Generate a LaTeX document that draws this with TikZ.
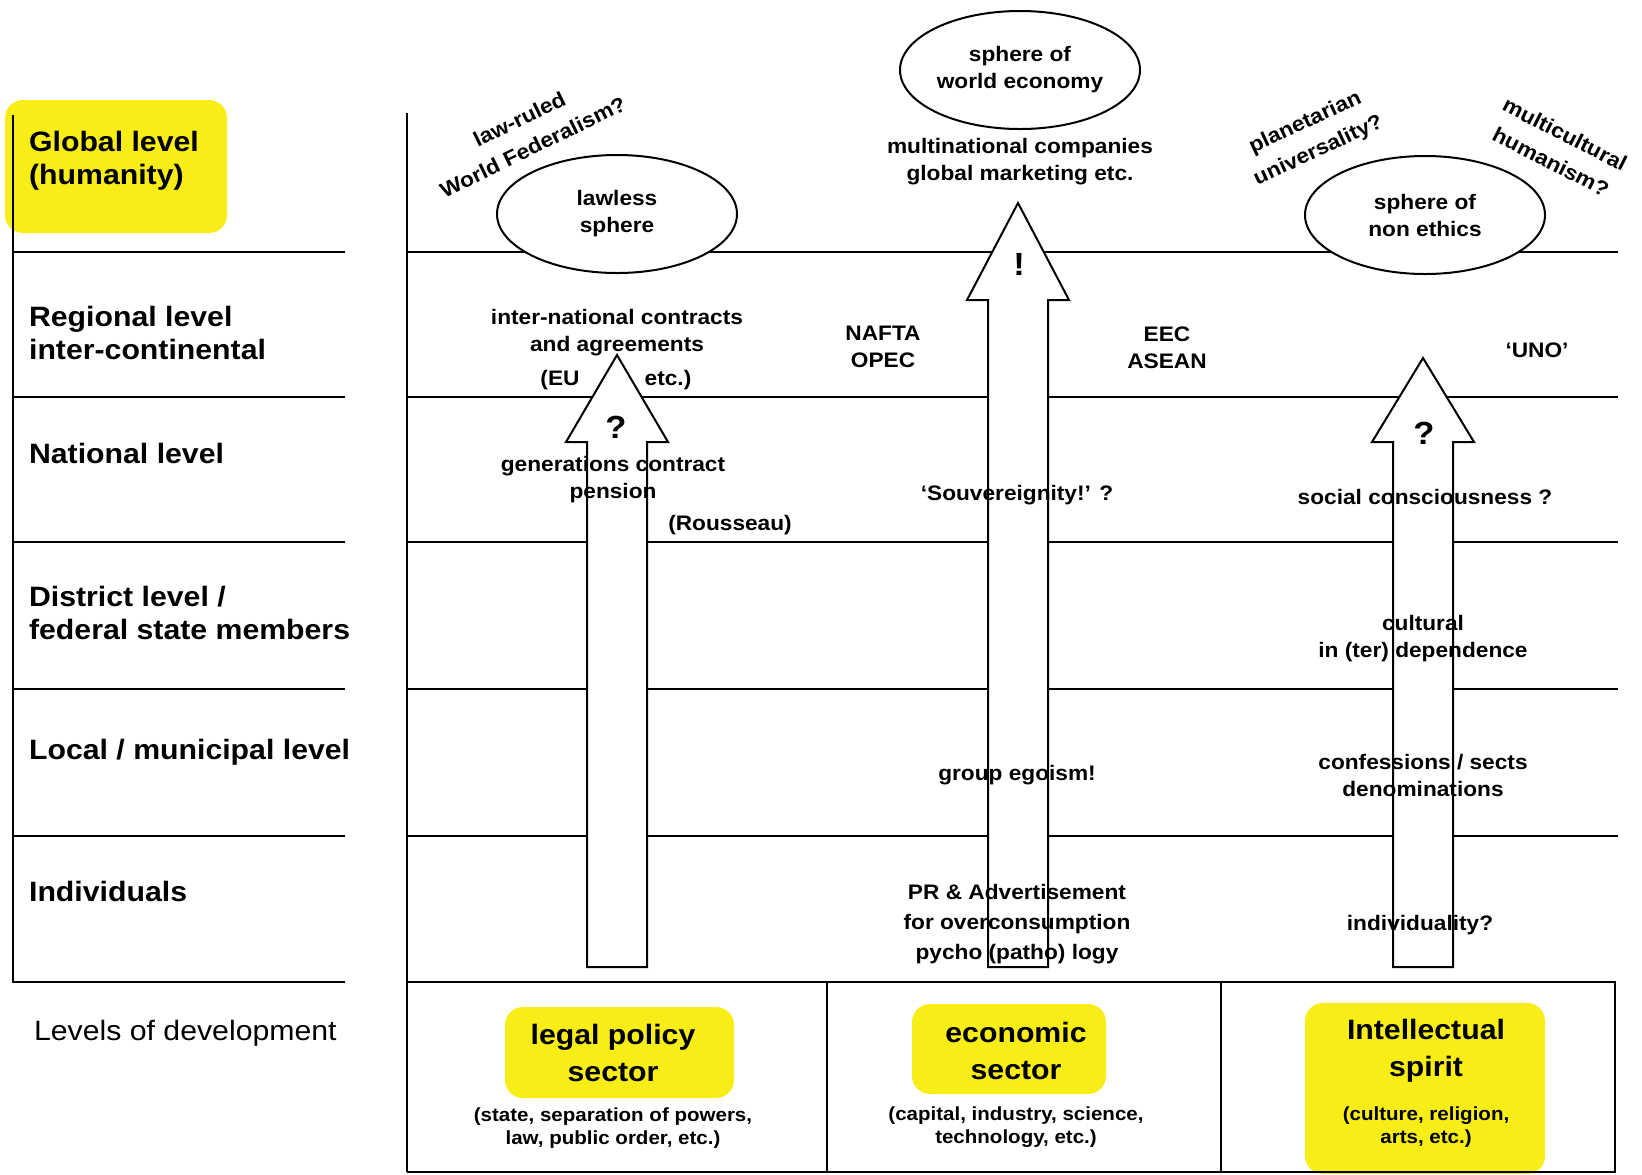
\documentclass[tikz,border=0pt]{standalone}
\usepackage{fontspec}
\setmainfont{Liberation Sans}
\newfontfamily\scanfont[FakeStretch=1.08,Ligatures=TeX]{Liberation Sans}
\usetikzlibrary{shapes.geometric}
\definecolor{hlyellow}{RGB}{248,237,22}
\def\shaftw{30}
\def\headw{51}
\def\arrowfoot{967}

\begin{document}
\begin{tikzpicture}[x=0.5pt,y=-0.5pt,line width=1.1pt]
  \tikzstyle{rowlabel}=[anchor=west,align=left,inner sep=0pt,font=\scanfont\bfseries\fontsize{14}{16.5}\selectfont]
  \tikzstyle{annot}=[align=center,inner sep=0pt,font=\scanfont\bfseries\fontsize{10.5}{13.5}\selectfont]
  \tikzstyle{slanted}=[align=center,inner sep=0pt,font=\scanfont\bfseries\fontsize{10.5}{15.5}\selectfont]
  \tikzstyle{sphere}=[ellipse,draw,fill=white,line width=1pt,minimum width=120pt,minimum height=59pt,annot]
  \tikzstyle{sector}=[align=center,inner sep=0pt,font=\scanfont\bfseries\fontsize{14}{18.5}\selectfont]
  \tikzstyle{sector note}=[align=center,inner sep=0pt,font=\scanfont\bfseries\fontsize{9.5}{11.5}\selectfont]
  \tikzstyle{sign}=[inner sep=0pt,font=\scanfont\bfseries\fontsize{16}{16}\selectfont]
  \tikzstyle{highlight}=[fill=hlyellow,rounded corners=9pt]
  \tikzstyle{block arrow}=[draw,fill=white,line width=1pt,line join=miter]

  \useasboundingbox (0,0) rectangle (1642,1174);

  % Marker highlights
  \fill[highlight] (5,100) rectangle (227,233);
  \fill[highlight] (505,1007) rectangle (734,1098);
  \fill[highlight] (912,1004) rectangle (1106,1094);
  \fill[highlight] (1305,1003) rectangle (1545,1174);

  % Draw the level rows
  \draw (13,115) -- (13,982) -- (345,982);
  \draw (407,113) -- (407,1172);
  \foreach \y in {252,397,542,689,836}
  {\draw (13,\y) -- (345,\y); \draw (407,\y) -- (1618,\y);}

  % Sector boxes
  \draw (407,982) -- (1615,982) -- (1615,1172) -- (407,1172);
  \draw (827,982) -- (827,1172);
  \draw (1221,982) -- (1221,1172);

  % Spheres on the global level
  \node[sphere] (lawless) at (617,214) {lawless\\sphere};
  \node[sphere] (economy) at (1020,70) {sphere of\\world economy};
  \node[sphere] (ethics) at (1425,215) {sphere of\\non ethics};

  % Block arrows, one per sector
  \foreach \name/\x/\tip/\base in {legal/617/355/442,econ/1018/203/300,spirit/1423/358/442}
  \draw[block arrow] (\x-\shaftw,\arrowfoot) -- (\x-\shaftw,\base) -- (\x-\headw,\base)
    -- (\x,\tip) -- (\x+\headw,\base) -- (\x+\shaftw,\base) -- (\x+\shaftw,\arrowfoot) -- cycle;

  \node[sign] (legal-q) at (616,427) {?};
  \node[sign] (econ-q) at (1019,264) {!};
  \node[sign] (spirit-q) at (1424,433) {?};

  % Row labels
  \node[rowlabel] (global) at (28,161) {Global level\\(humanity)};
  \node[rowlabel] (regional) at (28,333) {Regional level\\inter-continental};
  \node[rowlabel] (national) at (28,453) {National level};
  \node[rowlabel] (district) at (28,613) {District level /\\federal state members};
  \node[rowlabel] (local) at (28,752) {Local / municipal level};
  \node[rowlabel] (indiv) at (28,891) {Individuals};
  \node[rowlabel,font=\scanfont\fontsize{14}{16.5}\selectfont] (devel) at (33,1033) {Levels of development};

  % Legal policy column
  \node[slanted,rotate=26] (federal) at (526,133) {law-ruled\\World Federalism?};
  \node[annot] (contracts) at (617,333) {inter-national contracts\\and agreements};
  \node[annot] (eu) at (560,380) {(EU};
  \node[annot] (euetc) at (668,380) {etc.)};
  \node[annot] (pension) at (613,480) {generations contract\\pension};
  \node[annot] (rousseau) at (730,525) {(Rousseau)};

  % Economic column
  \node[annot] (multi) at (1020,162) {multinational companies\\global marketing etc.};
  \node[annot] (nafta) at (883,347) {NAFTA\\OPEC};
  \node[annot] (eec) at (1167,348) {EEC\\ASEAN};
  \node[annot] (souv) at (1017,495) {‘Souvereignity!’ ?};
  \node[annot] (egoism) at (1017,775) {group egoism!};
  \node[annot,font=\scanfont\bfseries\fontsize{10.5}{15}\selectfont] (pr) at (1017,924)
    {PR \& Advertisement\\for overconsumption\\pycho (patho) logy};

  % Intellectual column
  \node[slanted,rotate=25] (planet) at (1312,137) {planetarian\\universality?};
  \node[slanted,rotate=-27] (humanism) at (1558,148) {multicultural\\humanism?};
  \node[annot] (uno) at (1537,350) {‘UNO’};
  \node[annot] (social) at (1425,497) {social consciousness ?};
  \node[annot] (cultural) at (1423,639) {cultural\\in (ter) dependence};
  \node[annot] (confess) at (1423,775) {confessions / sects\\denominations};
  \node[annot] (individ) at (1420,925) {individuality?};

  % Sectors
  \node[sector] (legal-s) at (613,1053) {legal policy\\sector};
  \node[sector note] (legal-n) at (613,1128) {(state, separation of powers,\\law, public order, etc.)};
  \node[sector] (econ-s) at (1016,1051) {economic\\sector};
  \node[sector note] (econ-n) at (1016,1127) {(capital, industry, science,\\technology, etc.)};
  \node[sector] (spirit-s) at (1426,1051) {Intellectual\\spirit};
  \node[sector note] (spirit-n) at (1426,1127) {(culture, religion,\\arts, etc.)};
\end{tikzpicture}
\end{document}
